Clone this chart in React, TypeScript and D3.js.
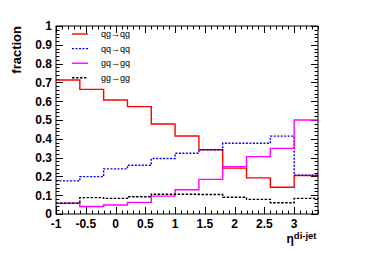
import React from "react";
import * as d3 from "d3";

const binEdges = [-1, -0.6, -0.2, 0.2, 0.6, 1.0, 1.4, 1.8, 2.2, 2.6, 3.0, 3.4];
const qgqg = [0.713, 0.663, 0.606, 0.571, 0.479, 0.415, 0.342, 0.244, 0.192, 0.142, 0.205];
const qqqq = [0.176, 0.199, 0.240, 0.259, 0.295, 0.323, 0.342, 0.376, 0.376, 0.414, 0.207];
const gqgq = [0.057, 0.040, 0.048, 0.062, 0.095, 0.129, 0.184, 0.252, 0.305, 0.349, 0.500];
const gggg = [0.058, 0.087, 0.083, 0.092, 0.105, 0.105, 0.104, 0.089, 0.078, 0.060, 0.083];
const xTickLabels = [-1, -0.5, 0, 0.5, 1, 1.5, 2, 2.5, 3];
const yTickLabels = [0, 0.1, 0.2, 0.3, 0.4, 0.5, 0.6, 0.7, 0.8, 0.9, 1];

const series = [
  { name: "qg\u2192qg", values: qgqg, color: "#ff0000", dash: "" },
  { name: "qq\u2192qq", values: qqqq, color: "#0000ff", dash: "2,1.5" },
  { name: "gq\u2192gq", values: gqgq, color: "#ff00ff", dash: "" },
  { name: "gg\u2192gg", values: gggg, color: "#000000", dash: "2.5,1.5" },
];

const W = 374;
const H = 253;
const m = { left: 56, right: 56, top: 26, bottom: 39 };

export default function App() {
  const x = d3.scaleLinear().domain([-1, 3.4]).range([m.left, W - m.right]);
  const y = d3.scaleLinear().domain([0, 1]).range([H - m.bottom, m.top]);

  // histogram outline: flat top per bin, vertical joins at the edges
  const stepPath = (vals: number[]) => {
    const pts: [number, number][] = [];
    vals.forEach((v, i) => {
      pts.push([x(binEdges[i]), y(v)]);
      pts.push([x(binEdges[i + 1]), y(v)]);
    });
    return d3.line()(pts) as string;
  };

  const xMinor = d3.range(-1, 3.41, 0.1).map((d) => +d.toFixed(2));
  const yMinor = d3.range(0, 1.001, 0.02).map((d) => +d.toFixed(2));
  const isMajX = (d: number) => Math.abs(d * 2 - Math.round(d * 2)) < 1e-6;
  const isMajY = (d: number) => Math.abs(d * 10 - Math.round(d * 10)) < 1e-6;

  const x0 = x(-1), x1 = x(3.4), y0 = y(0), y1 = y(1);
  const font = "Liberation Sans, Arial, Helvetica, sans-serif";

  return (
    <svg width={W} height={H} style={{ position: "absolute", left: 0, top: 0 }} fontFamily={font}>
      <rect width={W} height={H} fill="#fff" />
      {/* ticks on all four sides, pointing inwards */}
      <g stroke="#000" strokeWidth={1}>
        {xMinor.map((d) => {
          const len = isMajX(d) ? 7 : 3.5;
          const px = Math.round(x(d)) + 0.5;
          return (
            <g key={"x" + d}>
              <line x1={px} x2={px} y1={y0} y2={y0 - len} />
              <line x1={px} x2={px} y1={y1} y2={y1 + len} />
            </g>
          );
        })}
        {yMinor.map((d) => {
          const len = isMajY(d) ? 7 : 3.5;
          const py = Math.round(y(d)) + 0.5;
          return (
            <g key={"y" + d}>
              <line x1={x0} x2={x0 + len} y1={py} y2={py} />
              <line x1={x1} x2={x1 - len} y1={py} y2={py} />
            </g>
          );
        })}
      </g>
      {series.map((s) => (
        <path key={s.name} d={stepPath(s.values)} fill="none" stroke={s.color}
          strokeWidth={1.4} strokeDasharray={s.dash || undefined} />
      ))}
      <rect x={x0} y={y1} width={x1 - x0} height={y0 - y1} fill="none" stroke="#000" strokeWidth={1} />
      <g fontSize={12} fontWeight="bold" fill="#000">
        {yTickLabels.map((d) => (
          <text key={"yl" + d} x={x0 - 4} y={y(d)} dy="0.36em" textAnchor="end">{d}</text>
        ))}
        {xTickLabels.map((d) => (
          <text key={"xl" + d} x={x(d)} y={y0 + 14} textAnchor="middle">{d}</text>
        ))}
      </g>
      <text transform={`translate(21,${y1}) rotate(-90)`} textAnchor="end" fontSize={13}
        fontWeight="bold">fraction</text>
      <text x={286.5} y={243} fontSize={12} fontWeight="bold">
        {"\u03b7"}
        <tspan fontSize={9.5} dy={-4.5}>di-jet</tspan>
      </text>
      {series.map((s, i) => {
        const ly = 34 + i * 14.6;
        return (
          <g key={"lg" + s.name}>
            <line x1={72} x2={88} y1={ly} y2={ly} stroke={s.color} strokeWidth={1.4}
              strokeDasharray={s.dash || undefined} />
            <text x={101} y={ly} dy="0.35em" fontSize={9}>{s.name}</text>
          </g>
        );
      })}
    </svg>
  );
}
